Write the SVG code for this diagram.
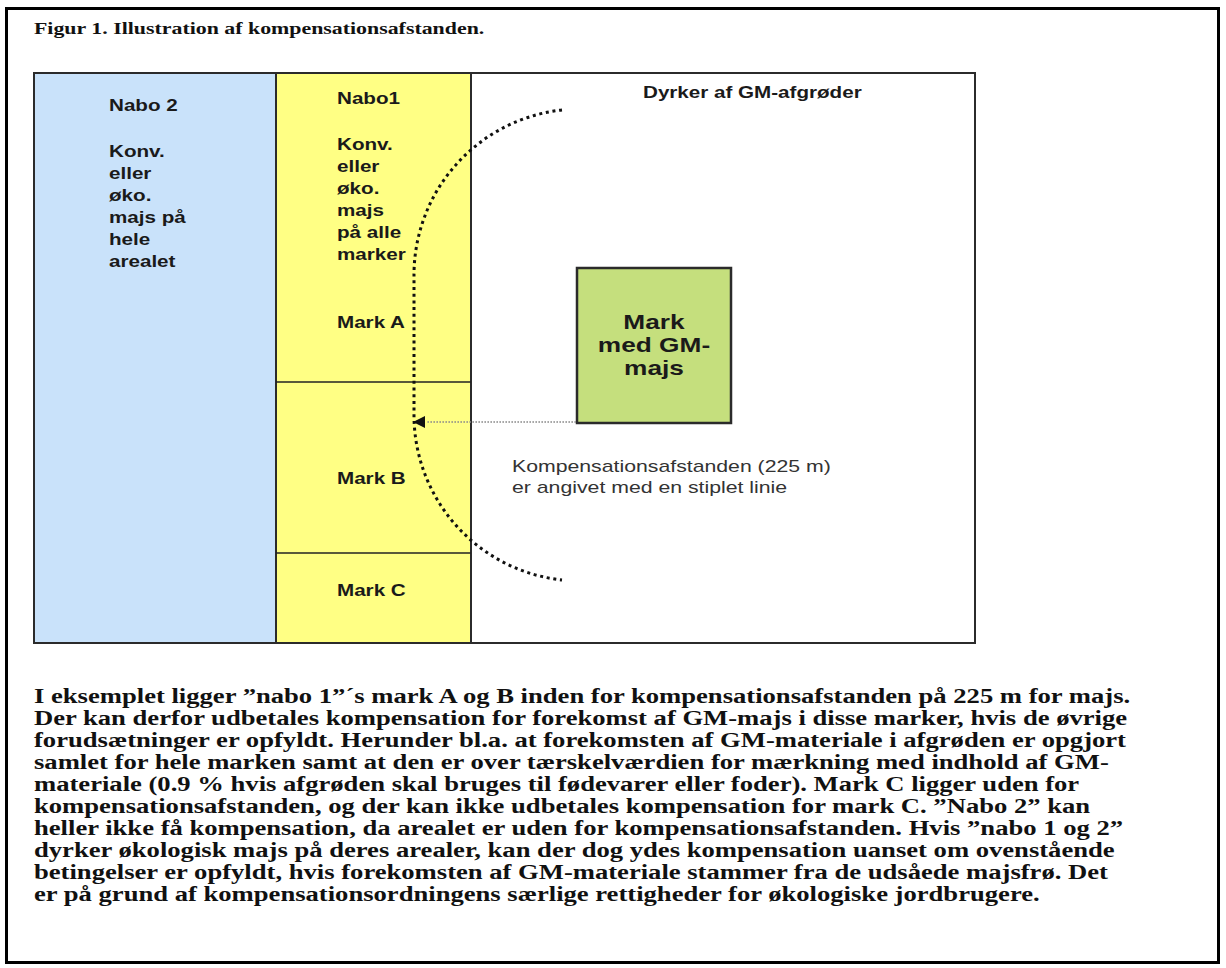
<svg xmlns="http://www.w3.org/2000/svg" width="1226" height="968" viewBox="0 0 1226 968">
<style>
.lbl{font-family:"Liberation Sans",Arial,sans-serif;font-weight:bold;font-size:16.5px;fill:#1a1a1a}
.big{font-family:"Liberation Sans",Arial,sans-serif;font-weight:bold;font-size:21px;fill:#1a1a1a}
.note{font-family:"Liberation Sans",Arial,sans-serif;font-size:17px;fill:#333}
.serif{font-family:"Liberation Serif","Times New Roman",serif;font-weight:bold;fill:#111}
.field{stroke:#2b2b2b;stroke-width:2}
.div{stroke:#222;stroke-width:1.6}
.dots{fill:none;stroke:#111;stroke-width:3;stroke-dasharray:3 3.7}
.guide{fill:none;stroke:#8a8a8a;stroke-width:1.6;stroke-dasharray:1.6 1.4}
</style>
<defs>
<marker id="ah" viewBox="0 0 10 10" refX="10" refY="5" markerWidth="13" markerHeight="12" markerUnits="userSpaceOnUse" orient="auto"><path d="M0,0 L10,5 L0,10 z" fill="#111"/></marker>
</defs>
<rect x="0" y="0" width="1226" height="968" fill="#fff"/>
<rect id="frame" x="6.5" y="8.5" width="1212" height="954" fill="none" stroke="#000" stroke-width="3"/>
<g id="title">
<text class="serif" font-size="17.5" transform="translate(34,34) scale(1.25,1)" x="0" y="0">Figur 1. Illustration af kompensationsafstanden.</text>
</g>
<g id="gm-grower">
<rect class="field" x="34" y="73" width="941" height="570" fill="#fff"/>
<text class="lbl" transform="translate(643,98) scale(1.25,1)" x="0" y="0">Dyrker af GM-afgrøder</text>
</g>
<g id="nabo2">
<rect class="field" x="34" y="73" width="242" height="570" fill="#c9e2fa"/>
<text class="lbl" transform="translate(109,0) scale(1.25,1)"><tspan x="0" y="111">Nabo 2</tspan><tspan x="0" y="157">Konv.</tspan><tspan x="0" y="179">eller</tspan><tspan x="0" y="201">øko.</tspan><tspan x="0" y="223">majs på</tspan><tspan x="0" y="245">hele</tspan><tspan x="0" y="267">arealet</tspan></text>
</g>
<g id="nabo1">
<rect class="field" x="276" y="73" width="195" height="570" fill="#ffff84"/>
<line class="div" x1="276" y1="382" x2="471" y2="382"/>
<line class="div" x1="276" y1="553" x2="471" y2="553"/>
<text class="lbl" transform="translate(337,0) scale(1.25,1)"><tspan x="0" y="104">Nabo1</tspan><tspan x="0" y="150">Konv.</tspan><tspan x="0" y="172">eller</tspan><tspan x="0" y="194">øko.</tspan><tspan x="0" y="216">majs</tspan><tspan x="0" y="238">på alle</tspan><tspan x="0" y="260">marker</tspan></text>
</g>
<g id="mark-a"><text class="lbl" transform="translate(337,328) scale(1.25,1)" x="0" y="0">Mark A</text></g>
<g id="mark-b"><text class="lbl" transform="translate(337,484) scale(1.25,1)" x="0" y="0">Mark B</text></g>
<g id="mark-c"><text class="lbl" transform="translate(337,596) scale(1.25,1)" x="0" y="0">Mark C</text></g>
<g id="gm-field">
<rect x="577" y="268" width="154" height="155" fill="#c5df7d" stroke="#2b2b2b" stroke-width="2.5"/>
<text class="big" text-anchor="middle" transform="translate(654,0) scale(1.25,1)"><tspan x="0" y="329">Mark</tspan><tspan x="0" y="352">med GM-</tspan><tspan x="0" y="375">majs</tspan></text>
</g>
<g id="connectors">
<path class="dots" d="M562,110 A166,166 0 0 0 414,276 L414,414 A166,166 0 0 0 562,580"/>
<line class="guide" x1="576" y1="422" x2="427" y2="422"/>
<line x1="426" y1="422" x2="413" y2="422" stroke="none" marker-end="url(#ah)"/>
</g>
<g id="note">
<text class="note" transform="translate(512,0) scale(1.25,1)"><tspan x="0" y="472">Kompensationsafstanden (225 m)</tspan><tspan x="0" y="493">er angivet med en stiplet linie</tspan></text>
</g>
<g id="caption">
<text class="serif" font-size="21.3" transform="translate(34,0) scale(1.25,1)">
<tspan x="0" y="703">I eksemplet ligger ”nabo 1”´s mark A og B inden for kompensationsafstanden på 225 m for majs.</tspan>
<tspan x="0" y="725">Der kan derfor udbetales kompensation for forekomst af GM-majs i disse marker, hvis de øvrige</tspan>
<tspan x="0" y="747">forudsætninger er opfyldt. Herunder bl.a. at forekomsten af GM-materiale i afgrøden er opgjort</tspan>
<tspan x="0" y="769">samlet for hele marken samt at den er over tærskelværdien for mærkning med indhold af GM-</tspan>
<tspan x="0" y="791">materiale (0.9 % hvis afgrøden skal bruges til fødevarer eller foder). Mark C ligger uden for</tspan>
<tspan x="0" y="813">kompensationsafstanden, og der kan ikke udbetales kompensation for mark C. ”Nabo 2” kan</tspan>
<tspan x="0" y="835">heller ikke få kompensation, da arealet er uden for kompensationsafstanden. Hvis ”nabo 1 og 2”</tspan>
<tspan x="0" y="857">dyrker økologisk majs på deres arealer, kan der dog ydes kompensation uanset om ovenstående</tspan>
<tspan x="0" y="879">betingelser er opfyldt, hvis forekomsten af GM-materiale stammer fra de udsåede majsfrø. Det</tspan>
<tspan x="0" y="901">er på grund af kompensationsordningens særlige rettigheder for økologiske jordbrugere.</tspan>
</text>
</g>
</svg>
